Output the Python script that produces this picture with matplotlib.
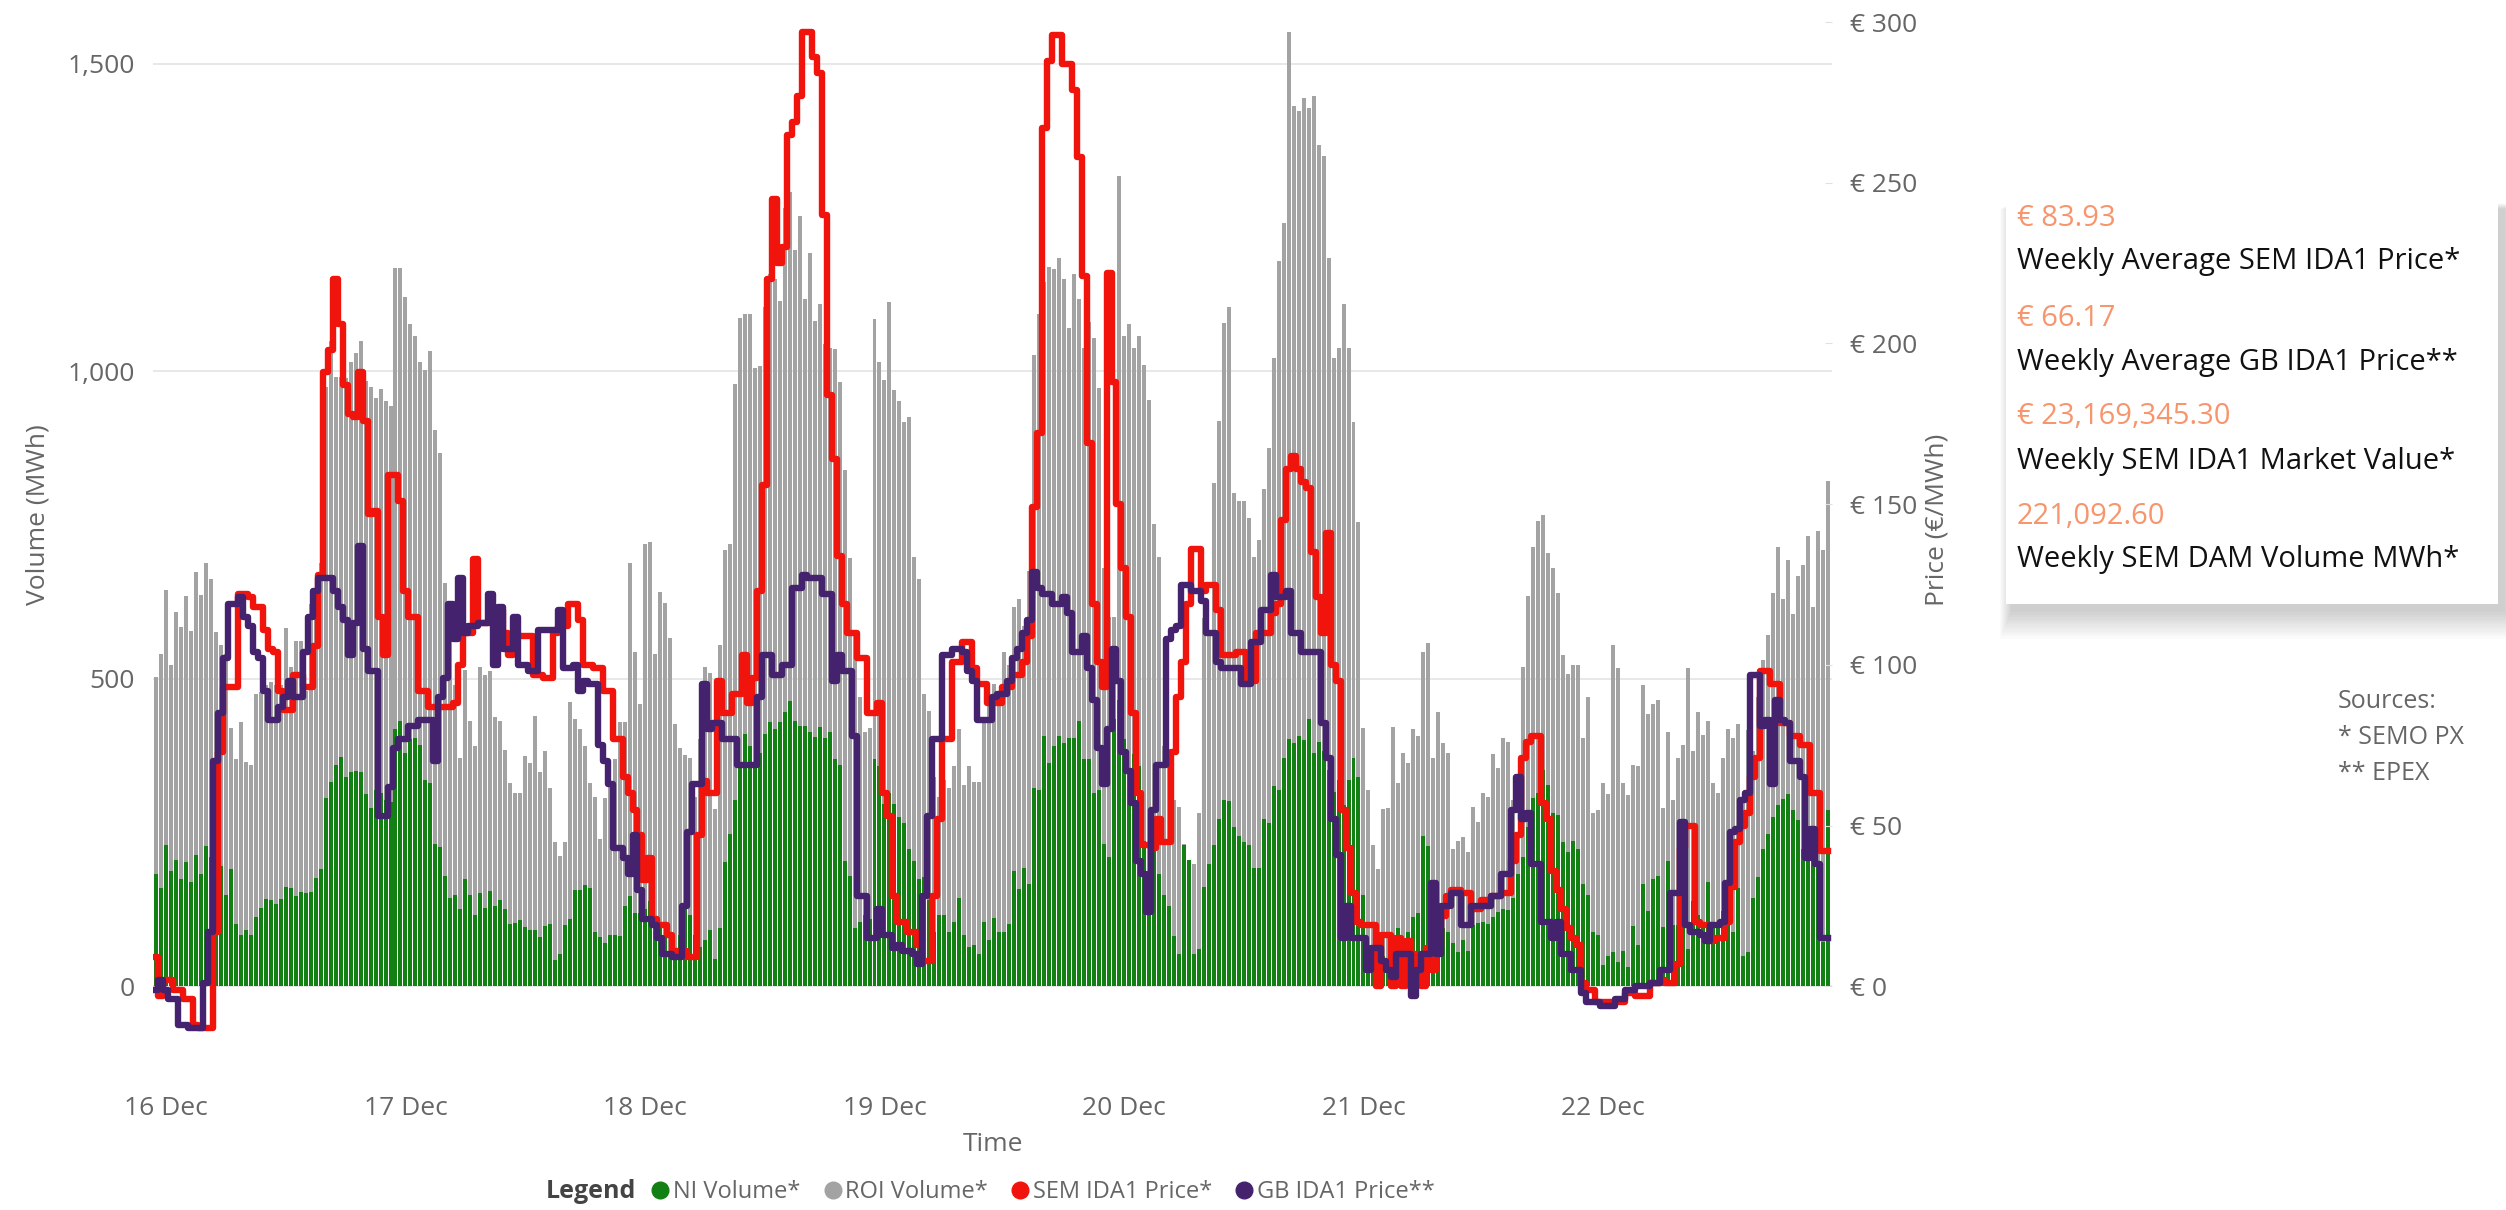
import numpy as np
import pandas as pd
import matplotlib
matplotlib.use("Agg")
import matplotlib.pyplot as plt
import matplotlib.dates as mdates
from matplotlib.lines import Line2D
from matplotlib.patches import Rectangle
from matplotlib.ticker import FuncFormatter, FixedLocator

plt.rcParams["font.family"] = ["Open Sans", "DejaVu Sans"]

# half-hourly periods, first one 15 Dec 23:00
start = "2024-12-15 23:00"

# top of the stacked bars (NI + ROI), MWh
total_volume = [
    503, 541, 645, 522, 609, 584, 634, 578, 674, 636, 689, 663, 576, 555, 540, 420, 369, 429, 365, 360, 475, 479, 490, 495,
    490, 490, 583, 520, 561, 561, 480, 621, 632, 689, 975, 1049, 991, 991, 989, 1016, 1030, 1049, 985, 975, 956, 971, 951, 943, 1168,
    1168, 1121, 1077, 1057, 1016, 1003, 1033, 904, 867, 656, 621, 490, 371, 514, 432, 391, 519, 506, 512, 438, 432, 385, 330, 314,
    314, 374, 363, 440, 349, 382, 323, 235, 212, 235, 462, 435, 418, 391, 330, 308, 240, 306, 330, 369, 429, 429, 689, 544, 459,
    720, 722, 541, 641, 624, 566, 427, 387, 376, 371, 308, 402, 519, 509, 289, 555, 709, 720, 980, 1086, 1093, 1093, 1005, 1009,
    1104, 1159, 1150, 1115, 1266, 1291, 1197, 1253, 1117, 1193, 1082, 1110, 1044, 1038, 1036, 983, 839, 696, 577, 470, 413, 420, 1085, 1016,
    986, 1112, 969, 951, 918, 926, 698, 662, 475, 448, 341, 308, 336, 322, 358, 418, 327, 358, 333, 333, 435, 473, 492, 479,
    544, 523, 616, 630, 586, 676, 1027, 1093, 1145, 1170, 1167, 1184, 1150, 1071, 1159, 1117, 1038, 1080, 1055, 973, 680, 600, 600, 1318,
    1057, 1077, 1038, 1058, 1011, 954, 751, 698, 391, 374, 303, 292, 232, 206, 199, 281, 599, 577, 819, 920, 1079, 1104, 802, 789,
    789, 762, 698, 725, 808, 876, 1022, 1179, 1241, 1552, 1431, 1423, 1445, 1428, 1448, 1368, 1351, 1184, 1022, 1038, 1110, 1038, 918, 755,
    420, 319, 229, 191, 289, 290, 422, 330, 380, 363, 418, 407, 544, 558, 371, 446, 396, 380, 223, 237, 242, 218, 292, 267,
    314, 308, 378, 355, 404, 398, 303, 250, 519, 634, 715, 756, 766, 705, 681, 639, 539, 508, 522, 522, 404, 470, 281, 287,
    330, 312, 555, 517, 330, 311, 360, 358, 490, 443, 459, 465, 290, 413, 303, 371, 393, 517, 383, 446, 409, 432, 330, 314,
    372, 418, 404, 427, 300, 416, 382, 470, 530, 572, 640, 715, 630, 693, 605, 667, 685, 733, 616, 740, 709, 821,
]

ni_volume = [
    182, 160, 229, 187, 206, 175, 202, 169, 214, 182, 228, 210, 170, 195, 149, 191, 102, 83, 91, 83, 113, 127, 142, 141,
    133, 142, 162, 160, 147, 154, 151, 154, 176, 190, 306, 333, 360, 373, 340, 348, 350, 348, 312, 290, 320, 315, 303, 300, 418,
    432, 380, 402, 404, 393, 336, 330, 232, 226, 180, 144, 149, 125, 175, 149, 116, 151, 127, 155, 130, 141, 125, 102, 103,
    108, 97, 92, 92, 80, 98, 102, 42, 53, 100, 109, 157, 157, 164, 160, 89, 80, 70, 83, 83, 81, 130, 147, 119, 119,
    125, 138, 105, 100, 83, 50, 50, 83, 127, 116, 83, 64, 75, 92, 45, 94, 202, 248, 303, 363, 411, 391, 358, 380,
    411, 429, 418, 429, 446, 464, 432, 424, 424, 413, 405, 422, 404, 413, 369, 360, 204, 180, 94, 105, 116, 110, 369, 358,
    297, 314, 297, 276, 265, 224, 204, 175, 177, 141, 89, 116, 116, 89, 105, 144, 83, 64, 67, 53, 105, 75, 111, 89,
    89, 102, 188, 158, 193, 166, 323, 320, 407, 363, 391, 407, 396, 404, 404, 432, 369, 369, 314, 320, 232, 210, 435, 465,
    402, 347, 378, 358, 237, 182, 226, 182, 149, 130, 81, 53, 229, 206, 53, 61, 162, 199, 229, 272, 303, 301, 259, 245,
    235, 229, 193, 193, 272, 265, 325, 320, 372, 402, 396, 407, 400, 435, 380, 398, 383, 352, 316, 336, 294, 336, 371, 340,
    149, 50, 40, 29, 50, 45, 40, 94, 72, 89, 113, 119, 245, 228, 157, 116, 94, 89, 70, 56, 76, 58, 100, 103,
    105, 102, 113, 120, 125, 124, 144, 182, 210, 259, 306, 314, 352, 328, 281, 278, 235, 218, 237, 223, 166, 149, 89, 83,
    34, 50, 56, 40, 58, 31, 98, 67, 166, 122, 175, 179, 97, 204, 100, 100, 111, 61, 138, 116, 100, 169, 94, 105,
    122, 127, 89, 160, 50, 56, 144, 177, 224, 248, 276, 295, 305, 312, 287, 270, 224, 210, 210, 199, 72, 287,
]

# EUR/MWh
sem_price = [
    9, -3, 2, 2, -1, -1, -4, -4, -12, -13, -13, -13, 17, 73, 93, 93, 93, 122, 122, 121, 118, 118, 111, 105,
    104, 92, 86, 86, 97, 97, 93, 93, 106, 128, 191, 198, 220, 206, 187, 178, 177, 191, 176, 147, 148, 115, 103, 159, 159,
    151, 123, 115, 115, 92, 92, 87, 87, 87, 87, 87, 88, 100, 110, 110, 133, 113, 113, 113, 117, 117, 110, 103, 110,
    109, 109, 109, 97, 97, 96, 96, 110, 112, 112, 119, 119, 114, 100, 100, 99, 99, 92, 92, 77, 77, 65, 60, 55, 47,
    33, 40, 21, 19, 19, 16, 11, 11, 11, 9, 9, 47, 64, 60, 60, 95, 85, 85, 91, 91, 103, 88, 96, 123,
    156, 220, 245, 225, 230, 265, 269, 277, 297, 297, 289, 284, 240, 184, 164, 134, 119, 110, 110, 102, 102, 85, 85, 88,
    60, 53, 28, 20, 20, 17, 17, 13, 8, 8, 28, 52, 77, 77, 101, 101, 107, 107, 99, 94, 94, 88, 88, 88,
    93, 93, 97, 97, 101, 109, 149, 172, 267, 288, 296, 296, 287, 287, 279, 258, 221, 169, 119, 101, 93, 222, 188, 150,
    130, 115, 85, 60, 44, 44, 43, 52, 45, 45, 73, 90, 101, 119, 136, 136, 123, 125, 125, 117, 103, 103, 103, 104,
    104, 95, 95, 110, 110, 110, 116, 119, 145, 161, 165, 161, 157, 155, 135, 121, 110, 141, 100, 95, 55, 43, 29, 20,
    19, 19, 19, 0, 16, 16, 0, 15, 0, 14, 10, 5, 0, 12, 5, 13, 22, 28, 30, 30, 29, 29, 24, 24,
    27, 27, 28, 28, 29, 29, 39, 47, 71, 76, 78, 78, 57, 52, 36, 30, 24, 18, 15, 13, 1, -1, -1, -5,
    -5, -5, -5, -5, -5, -2, -2, -3, -3, -3, 1, 1, 2, 1, 1, 7, 43, 50, 50, 20, 19, 19, 14, 15,
    15, 20, 31, 45, 50, 54, 65, 71, 98, 98, 94, 94, 82, 82, 78, 78, 75, 75, 60, 60, 42, 42,
]

gb_price = [
    -1, 2, -1, -4, -4, -12, -12, -13, -13, -13, 1, 17, 70, 85, 102, 119, 119, 121, 115, 112, 104, 102, 92, 83,
    83, 87, 90, 95, 90, 90, 104, 115, 123, 127, 127, 127, 123, 118, 114, 103, 113, 137, 105, 98, 98, 53, 53, 62, 74,
    77, 77, 81, 81, 83, 83, 83, 70, 90, 96, 119, 108, 127, 110, 112, 112, 113, 113, 122, 100, 118, 105, 105, 115,
    100, 100, 98, 98, 111, 111, 111, 111, 117, 99, 99, 100, 92, 95, 94, 94, 75, 70, 63, 43, 43, 40, 35, 47, 30,
    21, 21, 19, 15, 10, 10, 9, 9, 25, 48, 63, 63, 94, 80, 82, 82, 77, 77, 77, 69, 69, 69, 69, 90,
    103, 103, 97, 97, 100, 100, 124, 124, 128, 127, 127, 127, 122, 122, 95, 103, 98, 98, 78, 28, 28, 15, 15, 24,
    16, 16, 12, 13, 11, 11, 10, 7, 28, 53, 77, 77, 103, 103, 105, 105, 104, 98, 95, 83, 83, 83, 90, 91,
    91, 95, 102, 105, 110, 114, 129, 124, 122, 122, 119, 119, 121, 116, 104, 104, 109, 99, 89, 74, 63, 80, 105, 95,
    73, 67, 57, 39, 35, 23, 55, 69, 69, 108, 111, 112, 125, 125, 123, 123, 120, 110, 110, 101, 99, 99, 99, 99,
    94, 94, 107, 107, 117, 117, 128, 121, 121, 123, 110, 110, 104, 104, 104, 104, 82, 71, 52, 41, 15, 25, 15, 15,
    15, 5, 12, 12, 8, 5, 3, 10, 10, 10, -3, 5, 10, 10, 32, 10, 25, 25, 29, 29, 19, 19, 25, 25,
    25, 25, 28, 28, 35, 35, 55, 65, 52, 54, 38, 38, 20, 20, 15, 20, 10, 10, 5, 5, -2, -5, -5, -5,
    -6, -6, -6, -4, -4, -1, -1, 0, 0, 0, 1, 1, 5, 5, 29, 29, 51, 19, 17, 17, 16, 14, 19, 19,
    20, 32, 48, 49, 58, 60, 97, 97, 81, 83, 63, 89, 83, 82, 70, 70, 65, 40, 49, 38, 15, 15,
]

series_names = ["NI Volume*", "ROI Volume*", "SEM IDA1 Price*", "GB IDA1 Price**"]

card_values = ["€ 83.93", "€ 66.17", "€ 23,169,345.30", "221,092.60"]
card_labels = ["Weekly Average SEM IDA1 Price*", "Weekly Average GB IDA1 Price**",
               "Weekly SEM IDA1 Market Value*", "Weekly SEM DAM Volume MWh*"]
sources = ["Sources:", "* SEMO PX", "** EPEX"]

GREEN = "#138013"
GREY = "#a3a3a3"
RED = "#f0140c"
PURPLE = "#45226e"
TXT = "#666666"
ORANGE = "#f7956d"

W, H = 2506, 1210
times = pd.date_range(start, periods=len(ni_volume), freq="30min")
ni = np.array(ni_volume, dtype=float)
roi = np.maximum(np.array(total_volume, dtype=float) - ni, 0)

fig = plt.figure(figsize=(W / 100, H / 100), dpi=100)
# plot area in pixels: x 153..1832, y 22..1057
ax = fig.add_axes([153 / W, 1 - 1057 / H, (1832 - 153) / W, (1057 - 22) / H])
ax2 = ax.twinx()

half = pd.Timedelta(minutes=30)
bw = 0.8 / 48
ax.bar(times, ni, width=bw, color=GREEN, linewidth=0, zorder=2)
ax.bar(times, roi, bottom=ni, width=bw, color=GREY, linewidth=0, zorder=2)

ax2.plot(times, sem_price, drawstyle="steps-mid", color=RED, lw=4.6, zorder=3)
ax2.plot(times, gb_price, drawstyle="steps-mid", color=PURPLE, lw=4.6, zorder=4)

pmin, pmax = -22, 300
ratio = 5.227
ax.set_ylim(pmin * ratio, pmax * ratio)
ax2.set_ylim(pmin, pmax)
ax.set_xlim(times[0] - 0.6 * half, times[-1] + 0.9 * half)

ax.yaxis.set_major_locator(FixedLocator([0, 500, 1000, 1500]))
ax.yaxis.set_major_formatter(FuncFormatter(lambda v, p: f"{v:,.0f}"))
ax2.yaxis.set_major_locator(FixedLocator([0, 50, 100, 150, 200, 250, 300]))
ax2.yaxis.set_major_formatter(FuncFormatter(lambda v, p: f"€ {v:.0f}"))
ax.xaxis.set_major_locator(mdates.DayLocator())
ax.xaxis.set_major_formatter(mdates.DateFormatter("%d %b"))

ax.grid(axis="y", color="#e6e6e6", lw=1.3)
ax.set_axisbelow(True)
for a in (ax, ax2):
    for s in a.spines.values():
        s.set_visible(False)
ax.tick_params(axis="y", length=0, pad=13, labelsize=19, labelcolor=TXT)
ax.tick_params(axis="x", length=0, pad=28, labelsize=19, labelcolor=TXT)
ax2.tick_params(axis="y", length=5, direction="in", color="#e0e0e0", pad=13, labelsize=19, labelcolor=TXT)

ax.set_ylabel("Volume (MWh)", fontsize=19, color=TXT)
ax.yaxis.set_label_coords((50 - 153) / 1679, (1057 - 515) / 1035)
ax2.set_ylabel("Price (€/MWh)", fontsize=19, color=TXT)
ax2.yaxis.set_label_coords((1925 - 153) / 1679, (1057 - 520) / 1035)
ax.set_xlabel("Time", fontsize=19, color=TXT)
ax.xaxis.set_label_coords((993 - 153) / 1679, (1057 - 1132) / 1035)

# legend along the bottom
fig.text(546 / W, 1 - 1192 / H, "Legend", fontsize=18, fontweight="bold", color="#444444", va="center")
handles = [Line2D([], [], marker="o", ls="", ms=12, color=c) for c in (GREEN, GREY, RED, PURPLE)]
fig.legend(handles, series_names, loc="center left", bbox_to_anchor=(652 / W, 1 - 1192 / H),
           ncol=4, frameon=False, fontsize=17, labelcolor=TXT, handlelength=0.7,
           handletextpad=0.2, columnspacing=1.0, borderpad=0, borderaxespad=0)

# card with weekly figures, soft shadow underneath
bx0, by0, bx1, by1 = 2006, 187, 2498, 604
for k in range(12, 0, -1):
    g = k * 2.4
    fig.patches.append(Rectangle(((bx0 + 6 - g * 0.4) / W, 1 - (by1 + 6 + g) / H), (bx1 - bx0 + g * 0.8) / W,
                                 (by1 - by0 - 10 + g * 0.8) / H, transform=fig.transFigure,
                                 facecolor="black", alpha=0.016, lw=0, zorder=5))
fig.patches.append(Rectangle((bx0 / W, 1 - by1 / H), (bx1 - bx0) / W, (by1 - by0) / H,
                             transform=fig.transFigure, facecolor="white", lw=0, zorder=6))
val_y = [219, 318, 417, 516]
lab_y = [262, 362, 461, 560]
for v, l, vy, ly in zip(card_values, card_labels, val_y, lab_y):
    fig.text(2017 / W, 1 - vy / H, v, fontsize=21, color=ORANGE, va="center", zorder=7)
    fig.text(2017 / W, 1 - ly / H, l, fontsize=21, color="#111111", va="center", zorder=7)

for s, sy in zip(sources, [702, 738, 774]):
    fig.text(2338 / W, 1 - sy / H, s, fontsize=18, color=TXT, va="center")

fig.savefig("out.png", dpi=100)
